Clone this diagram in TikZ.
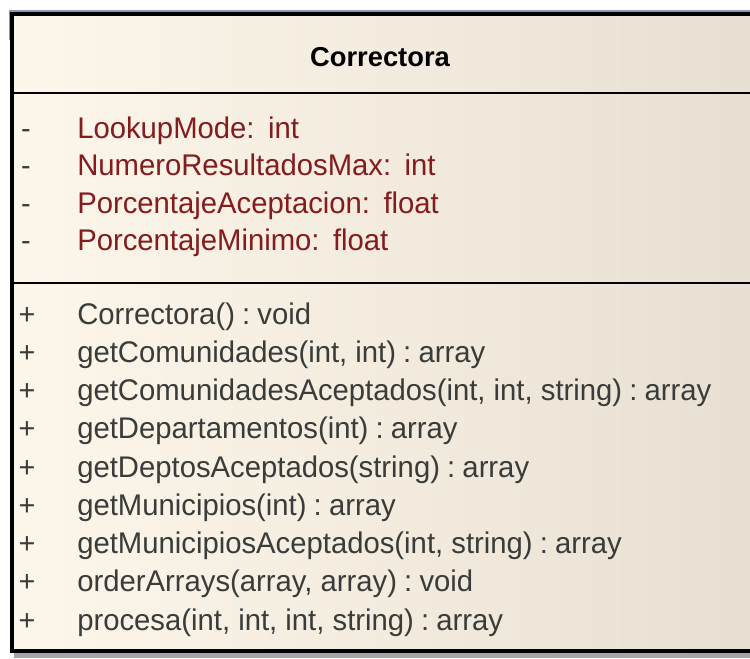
\documentclass[tikz,border=0pt]{standalone}
\usepackage{fontspec}
\setmainfont{Liberation Sans}
\newfontfamily\rowfont[FakeStretch=0.98]{Liberation Sans}
\definecolor{fillL}{RGB}{253,246,234}
\definecolor{fillR}{RGB}{231,224,210}
\definecolor{attrred}{RGB}{132,28,30}
\definecolor{opgray}{RGB}{58,60,58}
\definecolor{edgeblue}{RGB}{140,150,185}
\definecolor{shadowgray}{RGB}{165,165,168}
% narrow spacing around the return-type colon
\newcommand{\rtsep}{\hspace{0.24em}:\hspace{0.24em}}
\begin{document}
\begin{tikzpicture}[x=0.75pt,y=-0.75pt,
  rowtext/.style={anchor=base west,inner sep=0pt,font=\rowfont\fontsize{22.4pt}{26pt}\selectfont},
  attr/.style={rowtext,text=attrred},
  oper/.style={rowtext,text=opgray},
  vis/.style={anchor=base,inner sep=0pt,text=opgray,font=\rowfont\fontsize{22pt}{26pt}\selectfont},
  title/.style={inner sep=0pt,font=\fontsize{20.5pt}{24pt}\selectfont\bfseries},
  border/.style={line width=2.3pt,draw=black},
  divider/.style={line width=2.1pt,draw=black}]
\useasboundingbox (0,0) rectangle (750,658);

% drop shadow and outer edge
\fill[shadowgray] (14,652) rectangle (760,658);
\draw[edgeblue,line width=1.2pt] (9.5,40) -- (9.5,11) -- (760,11);

% class body
\shade[left color=fillL,right color=fillR] (12,14) rectangle (760,651);
\draw[border] (760,14) -- (12,14) -- (12,651) -- (760,651);
\draw[divider] (12,93) -- (760,93);
\draw[divider] (12,283) -- (760,283);

% class name
\node[title] (cname) at (380,57) {Correctora};

% attributes
\node[vis] (va1) at (26,138) {-};
\node[vis] (va2) at (26,175.5) {-};
\node[vis] (va3) at (26,213) {-};
\node[vis] (va4) at (26,250.5) {-};
\node[attr] (a1) at (77,138) {LookupMode:\hspace{0.45em}int};
\node[attr] (a2) at (77,175.5) {NumeroResultadosMax:\hspace{0.45em}int};
\node[attr] (a3) at (77,213) {PorcentajeAceptacion:\hspace{0.45em}float};
\node[attr] (a4) at (77,250.5) {PorcentajeMinimo:\hspace{0.45em}float};

% operations
\foreach \i/\txt in {0/{Correctora()\rtsep void},
                     1/{getComunidades(int, int)\rtsep array},
                     2/{getComunidadesAceptados(int, int, string)\rtsep array},
                     3/{getDepartamentos(int)\rtsep array},
                     4/{getDeptosAceptados(string)\rtsep array},
                     5/{getMunicipios(int)\rtsep array},
                     6/{getMunicipiosAceptados(int, string)\rtsep array},
                     7/{orderArrays(array, array)\rtsep void},
                     8/{procesa(int, int, int, string)\rtsep array}} {
  \node[vis] (vo\i) at (27,{324+38.25*\i}) {+};
  \node[oper] (op\i) at (77,{324+38.25*\i}) {\txt};
}
\end{tikzpicture}
\end{document}
